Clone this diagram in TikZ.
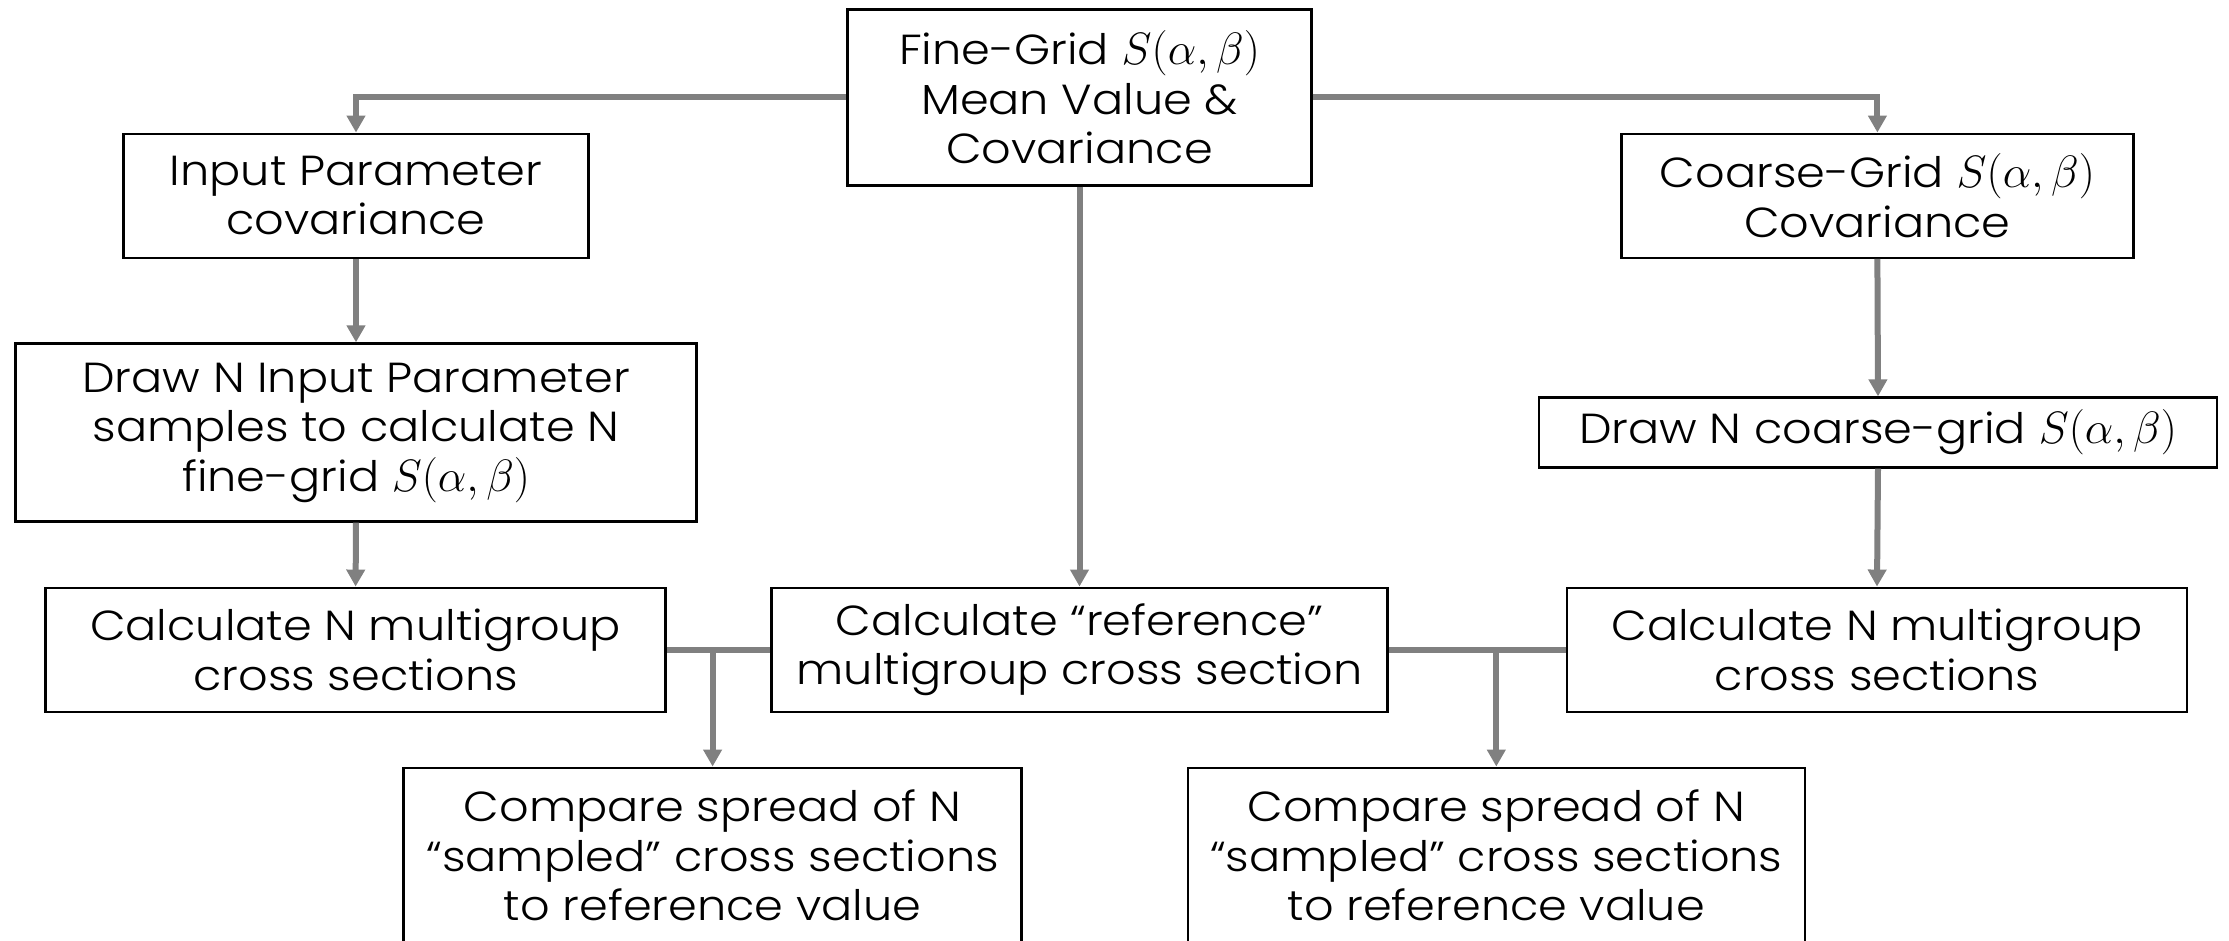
\RequirePackage{fix-cm}
\documentclass[tikz,border=0pt]{standalone}
\usepackage{fontspec}
\setmainfont{Poppins Light}[FakeStretch=1.1]
\usetikzlibrary{arrows.meta}

\definecolor{linkgray}{HTML}{808080}

\tikzset{
  box/.style={draw=black, line width=1.15pt, inner sep=0pt, align=center,
              font=\fontsize{21}{24.75}\selectfont},
  link/.style={draw=linkgray, line width=3pt},
  arr/.style={link, -{Triangle[width=9pt,length=8.5pt]}},
}
% the S(alpha,beta) symbol, set a touch larger than the running text
\newcommand{\salphabeta}{\scalebox{1.08}{$S(\alpha,\beta)$}}

\begin{document}
\begin{tikzpicture}[x=0.5pt,y=-0.5pt]
\useasboundingbox (0,0) rectangle (2229,941);

% top source
\node[box, minimum width=232pt, minimum height=88pt] (fine) at (1079.5,97.5)
  {Fine-Grid \salphabeta\\Mean Value \&\\Covariance};

% left column
\node[box, minimum width=232.5pt, minimum height=62pt] (input) at (356,195.7)
  {Input Parameter\\covariance};
\node[box, minimum width=340.5pt, minimum height=89pt] (drawin) at (356,432.5)
  {Draw N Input Parameter\\samples to calculate N\\fine-grid \salphabeta};
\node[box, minimum width=310pt, minimum height=62pt] (calcL) at (355.6,649.7)
  {Calculate N multigroup\\cross sections};

% right column
\node[box, minimum width=256pt, minimum height=62pt] (coarse) at (1877.4,195.7)
  {Coarse-Grid \salphabeta\\Covariance};
\node[box, minimum width=339pt, minimum height=35pt] (drawco) at (1878,432.5)
  {Draw N coarse-grid \salphabeta};
\node[box, minimum width=309.75pt, minimum height=62pt] (calcR) at (1877,649.7)
  {Calculate N multigroup\\cross sections};

% centre column
\node[box, minimum width=308pt, minimum height=62pt] (ref) at (1079.5,649.7)
  {Calculate “reference”\\multigroup cross section};

% comparison boxes
\node[box, minimum width=309pt, minimum height=88pt] (cmpL) at (712.6,855.7)
  {Compare spread of N\\“sampled” cross sections\\to reference value};
\node[box, minimum width=308.5pt, minimum height=88pt] (cmpR) at (1496.3,855.7)
  {Compare spread of N\\“sampled” cross sections\\to reference value};

% connectors
\draw[arr] (fine.west) -| (input.north);
\draw[arr] (fine.east) -| (coarse.north);
\draw[arr] (fine.south) -- (ref.north);
\draw[arr] (input.south) -- (drawin.north);
\draw[arr] (drawin.south) -- (calcL.north);
\draw[arr] (coarse.south) -- (drawco.north);
\draw[arr] (drawco.south) -- (calcR.north);

\draw[link] (calcL.east) -- (ref.west);
\draw[link] (ref.east) -- (calcR.west);
\coordinate (jL) at (cmpL.north |- calcL.east);
\coordinate (jR) at (cmpR.north |- ref.east);
\draw[arr] (jL) -- (cmpL.north);
\draw[arr] (jR) -- (cmpR.north);
\end{tikzpicture}
\end{document}
